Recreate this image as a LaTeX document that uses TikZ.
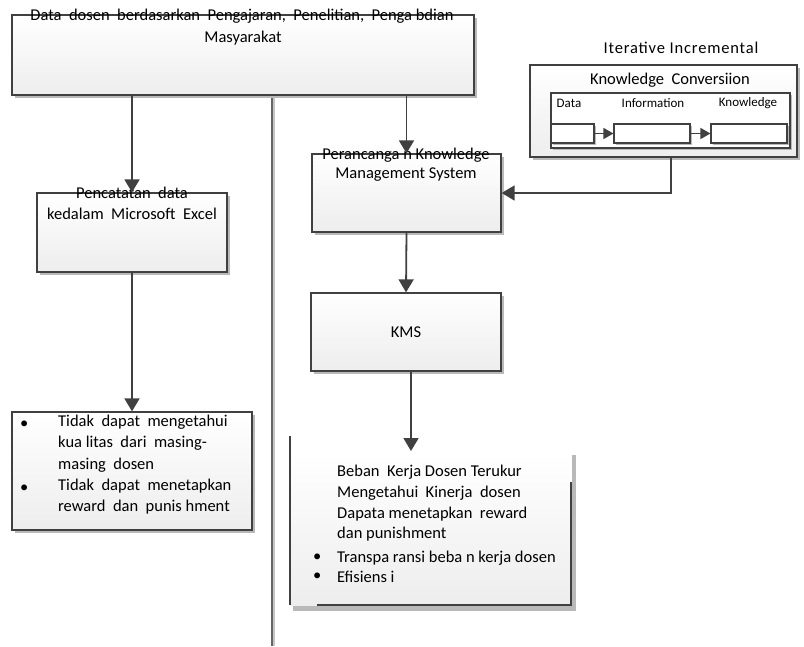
\documentclass[tikz,border=0pt]{standalone}
\usepackage{fontspec}
\setmainfont{Carlito}
\usetikzlibrary{shadows,arrows.meta}
\definecolor{dk}{HTML}{404040}
\tikzset{
  box/.style={draw=dk, line width=1.3pt, top color=white, bottom color=gray!14,
    inner sep=0pt, drop shadow={shadow xshift=3pt, shadow yshift=-3pt, fill=gray!55, opacity=1}},
  smallbox/.style={draw=dk, line width=1.1pt, fill=white, inner sep=0pt,
    drop shadow={shadow xshift=2pt, shadow yshift=-2pt, fill=gray!55, opacity=1}},
  arr/.style={draw=dk, line width=1.8pt, -{Triangle[length=13pt,width=15pt]}},
  sarr/.style={draw=dk, line width=1.3pt, -{Triangle[length=10pt,width=11pt]}},
  txt/.style={font=\fontsize{16.5}{21}\selectfont, inner sep=0pt, align=center, text=black},
  stxt/.style={font=\fontsize{13}{15}\selectfont, inner sep=0pt, text=black},
}
\begin{document}
\begin{tikzpicture}[x=1pt,y=-1pt]
\useasboundingbox (0,0) rectangle (804,646);
% separator line
\coordinate (sepT) at (272,96);
\coordinate (sepB) at (272,646);
\draw[gray!45, line width=2pt] ([xshift=2pt]sepT) -- ([xshift=2pt]sepB);
\draw[dk!80, line width=1.5pt] (sepT) -- (sepB);
% boxes
\node[box, minimum width=462pt, minimum height=80pt] (top) at (243,55) {};
\node[box, minimum width=190pt, minimum height=79pt] (lb) at (132,232.5) {};
\node[box, minimum width=189pt, minimum height=78pt] (pk) at (406.5,193) {};
\node[box, minimum width=190pt, minimum height=78pt] (kms) at (406,332) {};
\node[box, minimum width=240pt, minimum height=118pt] (lres) at (132,471) {};
\node[box, minimum width=267pt, minimum height=92pt] (iter) at (663.5,111) {};
\node[smallbox, minimum width=239pt, minimum height=55pt] (inner) at (670.5,120.5) {};
\node[smallbox, minimum width=43pt, minimum height=19pt] (b1) at (572.5,133.5) {};
\node[smallbox, minimum width=76pt, minimum height=19pt] (b2) at (652,133.5) {};
\node[smallbox, minimum width=76pt, minimum height=19pt] (b3) at (749,133.5) {};
% result box (partially bordered)
\fill[gray!55] (572,455) rectangle (576,611);
\fill[gray!55] (293,605) rectangle (576,611);
\node[inner sep=0pt, minimum width=280pt, minimum height=152pt, top color=white, bottom color=gray!14] (res) at (430,529) {};
\draw[dk, line width=1.5pt] (290,436) -- (290,605);
\draw[dk, line width=1.3pt] (317,605) -- (571,605) -- (571,482);
% texts
\node[txt] (t1) at (242,16) {Data\ \ dosen\ \ berdasarkan\ \ Pengajaran,\ \ Penelitian,\ \ Penga bdian};
\node[txt] (t2) at (243,38) {Masyarakat};
\node[txt] (t3) at (132,193) {Pencatatan\ \ data};
\node[txt] (t4) at (132,214) {kedalam\ \ Microsoft\ \ Excel};
\node[txt] (t5) at (406,155) {Perancanga n Knowledge};
\node[txt] (t6) at (406,175) {Management System};
\node[txt] (t7) at (406,332) {KMS};
\node[txt, font=\fontsize{16.5}{21}\selectfont\addfontfeature{LetterSpace=5}] (t8) at (681,48) {Iterative Incremental};
\node[txt] (t9) at (670,80) {Knowledge\ \ Conversiion};
\node[stxt] (l1) at (569,103) {Data};
\node[stxt] (l2) at (653,103) {Information};
\node[stxt] (l3) at (748,103) {Knowledge};
% left result text
\node[txt, anchor=west] (d1) at (20,425) {\textbullet};
\node[txt, anchor=west] (d2) at (20,489) {\textbullet};
\node[txt, align=left, anchor=north west, font=\fontsize{16.5}{21.2}\selectfont] (lt) at (58,415)
  {Tidak\ \ dapat\ \ mengetahui\\ kua litas\ \ dari\ \ masing-\\ masing\ \ dosen\\ Tidak\ \ dapat\ \ menetapkan\\ reward\ \ dan\ \ punis hment};
% right result text
\node[txt, align=left, anchor=north west, font=\fontsize{16.5}{20.7}\selectfont] (rt) at (337,465)
  {Beban\ \ Kerja Dosen Terukur\\ Mengetahui\ \ Kinerja\ \ dosen\\ Dapata menetapkan\ \ reward\\ dan punishment};
\node[txt, anchor=west] (e1) at (313,558) {\textbullet};
\node[txt, anchor=west] (e2) at (313,577) {\textbullet};
\node[txt, anchor=west] (f1) at (337,558) {Transpa ransi beba n kerja dosen};
\node[txt, anchor=west] (f2) at (337,577) {Efisiens i};
% connectors
\draw[arr] (lb.north |- top.south) -- (lb.north);
\draw[arr] (pk.north |- top.south) -- (pk.north);
\draw[arr] (pk.south) -- (kms.north);
\draw[arr] (lb.south) -- (lres.north);
\coordinate (kmsout) at (411,371);
\coordinate (resin) at (411,451);
\draw[arr] (kmsout) -- (resin);
\coordinate (iterout) at (671,157);
\draw[arr] (iterout) |- (pk.east);
\draw[sarr] (b1.east) -- (b2.west);
\draw[sarr] (b2.east) -- (b3.west);
\end{tikzpicture}
\end{document}
